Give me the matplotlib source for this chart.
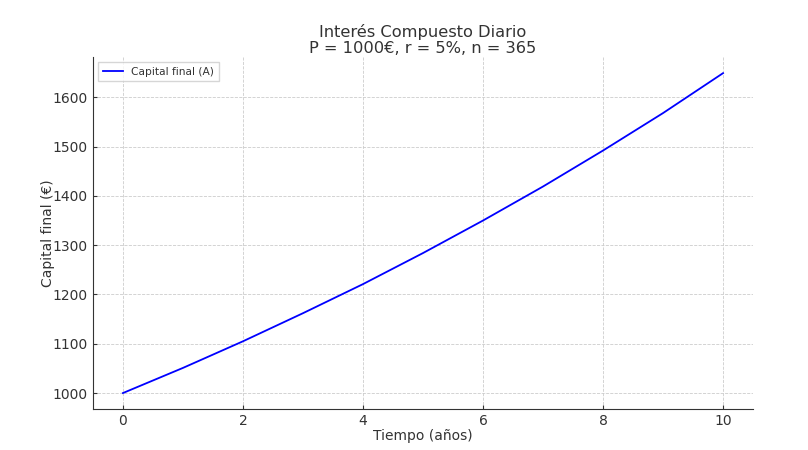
import matplotlib
matplotlib.use("Agg")
import matplotlib.pyplot as plt

# values (yearly)
years = [0, 1, 2, 3, 4, 5, 6, 7, 8, 9, 10]
capital = [1000, 1051, 1105, 1162, 1221, 1284, 1350, 1419, 1492, 1568, 1649]

txt = "#333333"
plt.rcParams['font.family'] = ['DejaVu Sans']

fig = plt.figure(figsize=(8.08, 4.5), dpi=100)
ax = fig.add_axes([0.115, 0.091, 0.817, 0.782])

ax.plot(years, capital, color="blue", linewidth=1.3, label="Capital final (A)")

ax.set_title("Interés Compuesto Diario\nP = 1000€, r = 5%, n = 365", fontsize=11.7, color=txt,
             linespacing=1.05, pad=3)
ax.set_xlabel("Tiempo (años)", fontsize=10, color=txt, labelpad=1)
ax.set_ylabel("Capital final (€)", fontsize=10, color=txt, labelpad=-1.5)
ax.set_yticks([1000, 1100, 1200, 1300, 1400, 1500, 1600])
ax.set_xticks([0, 2, 4, 6, 8, 10])

ax.grid(True, linestyle="--", color="#cccccc", linewidth=0.6)
ax.tick_params(colors=txt, labelsize=10, direction="in", length=3)
for s in ["top", "right"]:
    ax.spines[s].set_visible(False)
for s in ["left", "bottom"]:
    ax.spines[s].set_color(txt)

leg = ax.legend(loc="upper left", fontsize=7.7, frameon=True, fancybox=False, borderaxespad=0.5,
                handlelength=1.9)
leg.get_frame().set_edgecolor("#cccccc")
for t in leg.get_texts():
    t.set_color(txt)

fig.savefig("out.png", dpi=100)
